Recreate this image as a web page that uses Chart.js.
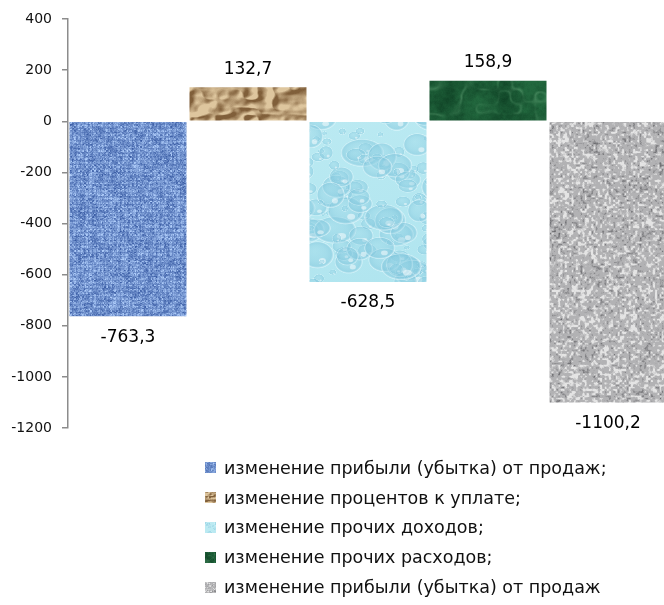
<!DOCTYPE html>
<html>
<head>
<meta charset="utf-8">
<script src="https://cdn.jsdelivr.net/npm/chart.js@4.4.1/dist/chart.umd.min.js"></script>
<style>
html, body { margin: 0; padding: 0; background: #fff; overflow: hidden; }
#wrap { position: relative; width: 664px; height: 605px; overflow: hidden; }
#chart { position: absolute; left: 0; top: 0; }
#legend { position: absolute; left: 205px; top: 453px; font-family: "DejaVu Sans"; font-size: 17.5px; color: #111; }
.item { height: 29.8px; display: flex; align-items: center; white-space: nowrap; }
.item canvas { margin-right: 8px; }
</style>
</head>
<body>
<div id="wrap">
  <canvas id="chart" width="670" height="605"></canvas>
  <div id="legend"></div>
</div>
<script>
// data
const seriesNames = [
    "изменение прибыли (убытка) от продаж;",
    "изменение процентов к уплате;",
    "изменение прочих доходов;",
    "изменение прочих расходов;",
    "изменение прибыли (убытка) от продаж"
];
const seriesValues = [-763.3, 132.7, -628.5, 158.9, -1100.2];
const yMin = -1200;
const yMax = 400;
const yStep = 200;

// --- textures for the bars (styling only) ---
function rng(seed) {
    return function() {
        seed |= 0; seed = seed + 0x6D2B79F5 | 0;
        let t = Math.imul(seed ^ seed >>> 15, 1 | seed);
        t = t + Math.imul(t ^ t >>> 7, 61 | t) ^ t;
        return ((t ^ t >>> 14) >>> 0) / 4294967296;
    };
}
function valueNoise(w, h, cx, cy, rand) {
    const gw = Math.ceil(w * 2 / cx) + 4, gh = Math.ceil(h * 2 / cy) + 4;
    const g = new Float32Array(gw * gh);
    for (let i = 0; i < g.length; i++) g[i] = rand();
    return function(x, y) {
        const fx = x / cx, fy = y / cy;
        const ix = Math.floor(fx), iy = Math.floor(fy);
        let tx = fx - ix, ty = fy - iy;
        tx = tx * tx * (3 - 2 * tx); ty = ty * ty * (3 - 2 * ty);
        const a = g[iy * gw + ix], b = g[iy * gw + ix + 1];
        const c = g[(iy + 1) * gw + ix], d = g[(iy + 1) * gw + ix + 1];
        return a + (b - a) * tx + (c - a) * ty + (a - b - c + d) * tx * ty;
    };
}
function lerp3(a, b, t) {
    t = Math.max(0, Math.min(1, t));
    return [a[0] + (b[0] - a[0]) * t, a[1] + (b[1] - a[1]) * t, a[2] + (b[2] - a[2]) * t];
}
function pixelTexture(w, h, fn) {
    const c = document.createElement('canvas');
    c.width = w; c.height = h;
    const cx = c.getContext('2d');
    const img = cx.createImageData(w, h);
    for (let y = 0; y < h; y++) {
        for (let x = 0; x < w; x++) {
            const col = fn(x, y);
            const i = (y * w + x) * 4;
            img.data[i] = col[0]; img.data[i + 1] = col[1]; img.data[i + 2] = col[2]; img.data[i + 3] = 255;
        }
    }
    cx.putImageData(img, 0, 0);
    return c;
}

const TW = 670, TH = 440;

function fabricTexture() {
    const r = rng(11);
    const hn = valueNoise(TW, TH, 5, 1.5, r);
    const vn = valueNoise(TW, TH, 1.5, 5, r);
    const dark = [45, 80, 155], light = [175, 205, 250];
    return pixelTexture(TW, TH, (x, y) => {
        const weave = ((x >> 1) + (y >> 1)) & 1;
        let t = weave ? hn(x, y) : vn(x, y);
        t = 0.7 * t + 0.3 * r();
        if (x % 4 === 0 || y % 4 === 0) t *= 0.75;
        return lerp3(dark, light, t * 1.1 + 0.05);
    });
}
function paperTexture() {
    const r = rng(23);
    const n1 = valueNoise(TW, TH, 34, 20, r);
    const n2 = valueNoise(TW, TH, 14, 8, r);
    const n3 = valueNoise(TW, TH, 5, 4, r);
    const hgt = (x, y) => 0.55 * n1(x, y) + 0.35 * Math.abs(n2(x, y) - 0.5) * 2 + 0.1 * n3(x, y);
    const dark = [128, 95, 58], light = [222, 198, 158];
    return pixelTexture(TW, TH, (x, y) => {
        const s = (hgt(x, y) - hgt(x + 3, y + 2)) * 5;
        return lerp3(dark, light, 0.62 + s + 0.05 * (r() - 0.5));
    });
}
function waterTexture() {
    const r = rng(37);
    const c = document.createElement('canvas');
    c.width = TW; c.height = TH;
    const cx = c.getContext('2d');
    const bg = cx.createLinearGradient(0, 0, 130, TH);
    bg.addColorStop(0, '#c6eff5');
    bg.addColorStop(1, '#ace3ee');
    cx.fillStyle = bg;
    cx.fillRect(0, 0, TW, TH);
    for (let i = 0; i < 1500; i++) {
        const x = r() * TW, y = r() * TH;
        const rad = 2 + Math.pow(r(), 2) * 12;
        const sx = 1 + r() * 0.6;
        cx.save();
        cx.translate(x, y);
        cx.scale(sx, 1);
        const g = cx.createRadialGradient(-rad * 0.2, -rad * 0.3, 0, 0, 0, rad);
        g.addColorStop(0, 'rgba(150,212,230,0.3)');
        g.addColorStop(0.6, 'rgba(140,205,225,0.4)');
        g.addColorStop(0.88, 'rgba(125,195,218,0.45)');
        g.addColorStop(1, 'rgba(235,252,255,0.8)');
        cx.fillStyle = g;
        cx.beginPath();
        cx.arc(0, 0, rad, 0, Math.PI * 2);
        cx.fill();
        cx.fillStyle = 'rgba(255,255,255,0.5)';
        cx.beginPath();
        cx.arc(rad * 0.3, rad * 0.45, rad * 0.22, 0, Math.PI * 2);
        cx.fill();
        cx.restore();
    }
    return c;
}
function marbleTexture() {
    const r = rng(41);
    const n1 = valueNoise(TW, TH, 24, 24, r);
    const n2 = valueNoise(TW, TH, 9, 9, r);
    const n3 = valueNoise(TW, TH, 3, 3, r);
    const n4 = valueNoise(TW, TH, 12, 12, r);
    const dark = [14, 64, 36], mid = [34, 104, 62], light = [100, 165, 120];
    return pixelTexture(TW, TH, (x, y) => {
        const f = 0.45 * n1(x, y) + 0.35 * n2(x, y) + 0.2 * n3(x, y);
        const vein = Math.max(0, 1 - Math.abs(n4(x, y) - 0.5) * 7);
        const base = lerp3(dark, mid, f * 1.5 - 0.2 + 0.15 * (r() - 0.5));
        return lerp3(base, light, vein * 0.5 * n2(x + 30, y + 10));
    });
}
function graniteTexture() {
    const r = rng(53);
    const n1 = valueNoise(TW, TH, 2.2, 2.2, r);
    const n2 = valueNoise(TW, TH, 14, 14, r);
    const dark = [92, 92, 96], mid = [178, 178, 180], light = [228, 228, 228];
    return pixelTexture(TW, TH, (x, y) => {
        const t = 0.75 * n1(x, y) + 0.15 * n2(x, y) + 0.1 * r();
        if (t < 0.33) return lerp3(dark, mid, t / 0.33);
        if (t > 0.55) return lerp3(mid, light, (t - 0.55) / 0.2);
        return mid;
    });
}

const textures = [fabricTexture(), paperTexture(), waterTexture(), marbleTexture(), graniteTexture()];

const ctx = document.getElementById('chart').getContext('2d');
const fills = textures.map(t => ctx.createPattern(t, 'repeat'));

const valueLabels = {
    id: 'valueLabels',
    afterDatasetsDraw(chart) {
        const c = chart.ctx;
        c.save();
        c.font = '17px "DejaVu Sans"';
        c.fillStyle = '#000';
        c.textAlign = 'center';
        c.textBaseline = 'middle';
        chart.data.datasets.forEach((ds, i) => {
            const bar = chart.getDatasetMeta(i).data[0];
            const v = ds.data[0];
            const y = v >= 0 ? bar.y - 18 : bar.y + 21;
            c.fillText(v.toFixed(1).replace('.', ','), bar.x, y);
        });
        c.restore();
    }
};

const chart = new Chart(ctx, {
    type: 'bar',
    data: {
        labels: [''],
        datasets: seriesNames.map((name, i) => ({
            label: name,
            data: [seriesValues[i]],
            backgroundColor: fills[i],
            borderWidth: 0,
            barPercentage: 0.975,
            categoryPercentage: 1
        }))
    },
    options: {
        responsive: false,
        animation: false,
        layout: { padding: { top: 19, right: 2, bottom: 177, left: 0 } },
        plugins: {
            legend: { display: false },
            tooltip: { enabled: false }
        },
        scales: {
            x: { display: false },
            y: {
                min: yMin,
                max: yMax,
                ticks: {
                    stepSize: yStep,
                    padding: 10,
                    color: '#111',
                    font: { family: 'DejaVu Sans', size: 14 },
                    callback: v => String(v)
                },
                grid: { drawOnChartArea: false, tickLength: 6, color: '#8c8c8c', lineWidth: 1.5 },
                border: { color: '#8c8c8c', width: 1.5 },
                afterFit(scale) { scale.width = 68; }
            }
        }
    },
    plugins: [valueLabels]
});

// legend below the plot, one line per series
const legend = document.getElementById('legend');
seriesNames.forEach((name, i) => {
    const row = document.createElement('div');
    row.className = 'item';
    const sw = document.createElement('canvas');
    sw.width = 11; sw.height = 11;
    const sc = sw.getContext('2d');
    sc.drawImage(textures[i], 200, 100, 40, 40, 0, 0, 11, 11);
    row.appendChild(sw);
    const span = document.createElement('span');
    span.textContent = name;
    row.appendChild(span);
    legend.appendChild(row);
});
</script>
</body>
</html>
